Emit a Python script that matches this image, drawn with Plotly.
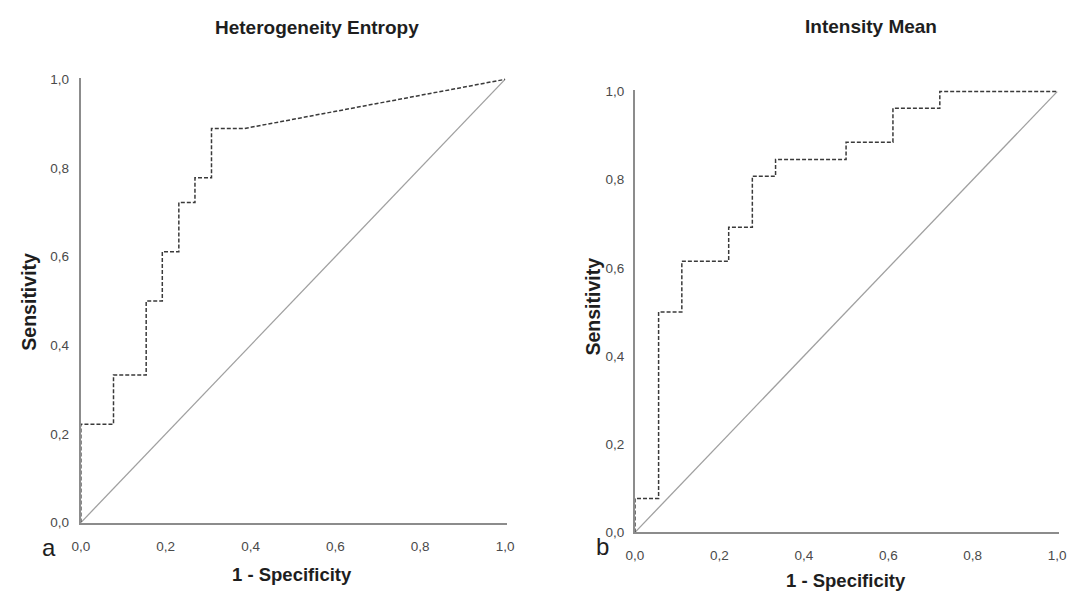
import plotly.graph_objects as go

# ---- data ----
titles = ["Heterogeneity Entropy", "Intensity Mean"]
panel_letters = ["a", "b"]
x_title = "1 - Specificity"
y_title = "Sensitivity"
tick_vals = [0.0, 0.2, 0.4, 0.6, 0.8, 1.0]

# ROC curve vertices, panel a
a_fpr = [0.0, 0.0, 0.077, 0.077, 0.154, 0.154, 0.192, 0.192, 0.231, 0.231,
         0.269, 0.269, 0.308, 0.308, 0.385, 1.0]
a_tpr = [0.0, 0.222, 0.222, 0.333, 0.333, 0.5, 0.5, 0.611, 0.611, 0.722,
         0.722, 0.778, 0.778, 0.889, 0.889, 1.0]

# ROC curve vertices, panel b
b_fpr = [0.0, 0.0, 0.056, 0.056, 0.111, 0.111, 0.222, 0.222, 0.278, 0.278,
         0.333, 0.333, 0.5, 0.5, 0.611, 0.611, 0.722, 0.722, 1.0]
b_tpr = [0.0, 0.077, 0.077, 0.5, 0.5, 0.615, 0.615, 0.692, 0.692, 0.808,
         0.808, 0.846, 0.846, 0.885, 0.885, 0.962, 0.962, 1.0, 1.0]

ref_line = [0.0, 1.0]

# ---- layout geometry (pixels) ----
W, H = 1077, 603
FONT = "Liberation Sans, Arial, sans-serif"
EXT = 1.004  # small range extension so edge lines are not clipped

# (x pixel of 0, x pixel of 1, y pixel of 0, y pixel of 1)
panels = [(73, 504, 529, 76), (636, 1065, 539, 88.5)]


def xdom(p0, p1):
    return [p0 / W, (p0 + (p1 - p0) * EXT) / W]


def ydom(q0, q1):
    top = q0 - (q0 - q1) * EXT
    return [(H - q0) / H, (H - top) / H]


fig = go.Figure()

curves = [(a_fpr, a_tpr), (b_fpr, b_tpr)]
for i, (fx, fy) in enumerate(curves):
    xa = "x" if i == 0 else "x2"
    ya = "y" if i == 0 else "y2"
    fig.add_trace(go.Scatter(x=ref_line, y=ref_line, mode="lines",
                             line=dict(color="#a0a0a0", width=1.3),
                             xaxis=xa, yaxis=ya, showlegend=False,
                             hoverinfo="skip"))
    fig.add_trace(go.Scatter(x=fx, y=fy, mode="lines",
                             line=dict(color="#3a3a3a", width=1.5, dash="4px,2px"),
                             xaxis=xa, yaxis=ya, showlegend=False))

axis_common = dict(range=[0, EXT], tickvals=tick_vals, tickformat=".1f",
                   showgrid=False, zeroline=False, showline=True,
                   linecolor="#8c8c8c", linewidth=2, ticks="",
                   tickfont=dict(family=FONT, size=13.5, color="#4a4a4a"),
                   fixedrange=True)

p = panels[0]
fig.update_layout(
    xaxis=dict(domain=xdom(p[0], p[1]), anchor="y", ticklabelstandoff=10, **axis_common),
    yaxis=dict(domain=ydom(p[2], p[3]), anchor="x", ticklabelstandoff=7, **axis_common),
)
p = panels[1]
fig.update_layout(
    xaxis2=dict(domain=xdom(p[0], p[1]), anchor="y2", ticklabelstandoff=9, **axis_common),
    yaxis2=dict(domain=ydom(p[2], p[3]), anchor="x2", ticklabelstandoff=6, **axis_common),
)

ann = []
# titles
title_pos = [(313, 22.5), (876, 21.5)]
for t, (px, py) in zip(titles, title_pos):
    ann.append(dict(text=t, x=px / W, y=(H - py) / H, xref="paper", yref="paper",
                    showarrow=False, xanchor="center", yanchor="middle",
                    font=dict(family=FONT, size=19, color="#1e1e1e", weight="bold")))
# x titles
xt_pos = [(288, 582.5), (850, 588)]
for (px, py) in xt_pos:
    ann.append(dict(text=x_title, x=px / W, y=(H - py) / H, xref="paper", yref="paper",
                    showarrow=False, xanchor="center", yanchor="middle",
                    font=dict(family=FONT, size=18.5, color="#1e1e1e", weight="bold")))
# y titles
yt_pos = [(20.5, 303), (593.5, 308)]
for (px, py) in yt_pos:
    ann.append(dict(text=y_title, x=px / W, y=(H - py) / H, xref="paper", yref="paper",
                    showarrow=False, xanchor="center", yanchor="middle", textangle=-90,
                    font=dict(family=FONT, size=19.5, color="#1e1e1e", weight="bold")))
# panel letters
letter_pos = [(41, 554), (603, 553)]
for t, (px, py) in zip(panel_letters, letter_pos):
    ann.append(dict(text=t, x=px / W, y=(H - py) / H, xref="paper", yref="paper",
                    showarrow=False, xanchor="center", yanchor="middle",
                    font=dict(family=FONT, size=24, color="#1e1e1e")))

fig.update_layout(
    width=W, height=H,
    margin=dict(l=0, r=0, t=0, b=0),
    paper_bgcolor="white", plot_bgcolor="white",
    separators=",.",
    annotations=ann,
    showlegend=False,
)

fig.write_html("out.html", config={"displayModeBar": False})
